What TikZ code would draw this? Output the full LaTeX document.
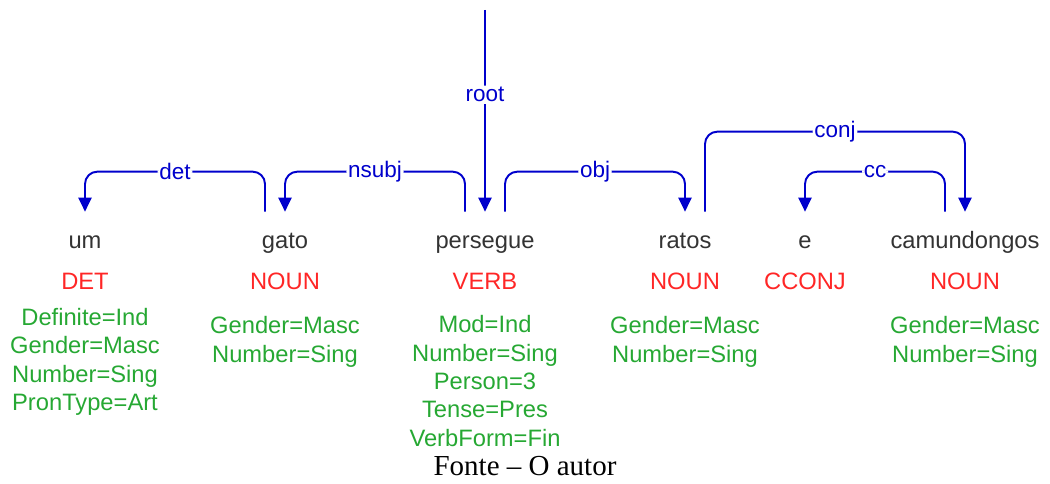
\documentclass[tikz,border=0pt]{standalone}
\usepackage{fontspec}
\setmainfont{Liberation Serif}
\setsansfont{Liberation Sans}
\usepackage{xcolor}
\usepackage{tikz}
\usetikzlibrary{arrows.meta}

\definecolor{deparc}{HTML}{0000CC}
\definecolor{posred}{HTML}{FF2626}
\definecolor{featgreen}{HTML}{26A833}
\definecolor{wordgray}{HTML}{333333}

\begin{document}
\begin{tikzpicture}[x=0.02cm, y=-0.02cm,
    >={Triangle[length=8pt,width=7.5pt]},
    word/.style={font=\sffamily\fontsize{13.5}{16}\selectfont,
                 text=wordgray,
                 text height=10pt, text depth=3pt,
                 minimum height=1.2cm,
                 inner sep=0pt},
    postag/.style={font=\sffamily\fontsize{13.5}{16}\selectfont,
                text=posred},
    feat/.style={font=\sffamily\fontsize{13.5}{16.2}\selectfont,
                 text=featgreen,
                 align=center},
    dep/.style={->, draw=deparc, line width=1.1pt, rounded corners=7pt},
    lbl/.style={font=\sffamily\fontsize{12.8}{15}\selectfont,
                text=deparc, fill=white, inner sep=1pt}
    ]

    \useasboundingbox (0,0) rectangle (1050,483);

    % words
    \node[word] (um) at (85,242) {um};
    \node[word] (gato) at (285,242) {gato};
    \node[word] (persegue) at (485,242) {persegue};
    \node[word] (ratos) at (685,242) {ratos};
    \node[word] (e) at (805,242) {e};
    \node[word] (camundongos) at (965,242) {camundongos};

    % tags
    \node[postag] (umpos) at (85,281) {DET};
    \node[postag] (gatopos) at (285,281) {NOUN};
    \node[postag] (perseguepos) at (485,281) {VERB};
    \node[postag] (ratospos) at (685,281) {NOUN};
    \node[postag] (epos) at (805,281) {CCONJ};
    \node[postag] (camundongospos) at (965,281) {NOUN};

    % features
    \node[feat] (umfeat) at (85,362)
        {Definite=Ind\\Gender=Masc\\Number=Sing\\PronType=Art};
    \node[feat] (gatofeat) at (285,342) {Gender=Masc\\Number=Sing};
    \node[feat] (perseguefeat) at (485,381)
        {Mod=Ind\\Number=Sing\\Person=3\\Tense=Pres\\VerbForm=Fin};
    \node[feat] (ratosfeat) at (685,342) {Gender=Masc\\Number=Sing};
    \node[feat] (camundongosfeat) at (965,342) {Gender=Masc\\Number=Sing};

    \node[font=\fontsize{16.5}{20}\selectfont] (fonte) at (525,466) {Fonte – O autor};

    % arcs
    \coordinate (rootstart) at (485,10);
    \draw[dep] (rootstart) -- node[lbl,pos=0.42] {root} (persegue.north);

    \draw[dep] ([xshift=-0.4cm]gato.north) -- ++(0,-40)
        -| node[lbl,pos=0.25] {det} (um.north);
    \draw[dep] ([xshift=-0.4cm]persegue.north) -- ++(0,-40)
        -| node[lbl,pos=0.25] {nsubj} (gato.north);
    \draw[dep] ([xshift=0.4cm]persegue.north) -- ++(0,-40)
        -| node[lbl,pos=0.25] {obj} (ratos.north);
    \draw[dep] ([xshift=0.4cm]ratos.north) -- ++(0,-80)
        -| node[lbl,pos=0.25] {conj} (camundongos.north);
    \draw[dep] ([xshift=-0.4cm]camundongos.north) -- ++(0,-40)
        -| node[lbl,pos=0.25] {cc} (e.north);

\end{tikzpicture}
\end{document}
